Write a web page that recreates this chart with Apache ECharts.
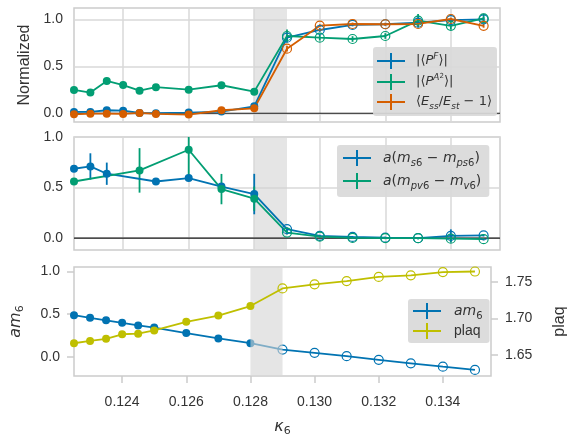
<!DOCTYPE html>
<html><head><meta charset="utf-8">
<script src="https://cdn.jsdelivr.net/npm/echarts@6/dist/echarts.min.js"></script>
<style>html,body{margin:0;padding:0;background:#fff}#c{width:576px;height:438px}</style>
</head><body><div id="c"></div>
<script>
// ---------------- data ----------------
const kappa = [0.1225,0.123,0.1235,0.124,0.1245,0.125,0.126,0.127,0.128,0.129,0.130,0.131,0.132,0.133,0.134,0.135];
const pF     = [0.014,0.014,0.032,0.028,0.004,0.000,0.007,0.018,0.074,0.804,0.886,0.940,0.947,0.964,0.990,1.000];
const pFErr  = [0.010,0.010,0.012,0.010,0.008,0.008,0.008,0.010,0.015,0.030,0.020,0.015,0.015,0.030,0.020,0.020];
const pA2    = [0.248,0.220,0.344,0.300,0.240,0.277,0.251,0.298,0.230,0.822,0.804,0.790,0.822,0.985,0.930,1.010];
const pA2Err = [0.030,0.025,0.035,0.030,0.025,0.030,0.030,0.035,0.025,0.070,0.030,0.030,0.030,0.070,0.040,0.050];
const ess    = [-0.011,-0.004,-0.004,-0.007,0.004,-0.007,-0.014,0.032,0.053,0.687,0.932,0.950,0.947,0.950,1.003,0.930];
const essErr = [0.008,0.008,0.008,0.008,0.008,0.008,0.008,0.010,0.010,0.030,0.015,0.015,0.015,0.015,0.015,0.020];

const kappaS = [0.1225,0.123,0.1235,0.125,0.126,0.127,0.128,0.129,0.130,0.131,0.132,0.133,0.134,0.135];
const dS     = [0.686,0.709,0.637,0.560,0.594,0.510,0.436,0.089,0.023,0.012,0.005,0.000,0.022,0.027];
const dSErr  = [0.020,0.130,0.110,0.020,0.030,0.020,0.200,0.020,0.010,0.010,0.010,0.010,0.065,0.010];
const kappaV = [0.1225,0.1245,0.126,0.127,0.128,0.129,0.130,0.131,0.132,0.133,0.134,0.135];
const dV     = [0.560,0.670,0.874,0.485,0.390,0.055,0.015,0.002,0.000,0.000,-0.005,-0.010];
const dVErr  = [0.030,0.220,0.290,0.150,0.120,0.020,0.010,0.010,0.010,0.010,0.030,0.010];

const am6  = [0.488,0.458,0.428,0.399,0.369,0.343,0.279,0.216,0.160,0.086,0.048,0.008,-0.034,-0.075,-0.115,-0.153];
const plaq = [1.6661,1.6692,1.6722,1.6784,1.6792,1.6836,1.6954,1.7040,1.7171,1.7412,1.7469,1.7513,1.7570,1.7592,1.7636,1.7644];

const xTicks = [0.124,0.126,0.128,0.130,0.132,0.134];
const yTicksNorm = [0,0.5,1.0];
const yTicksPlaq = [1.65,1.70,1.75];
const span = [0.128, 0.129];
const openFrom = 0.129;
const xMin = 0.1225, xMax = 0.1355;

// ---------------- style ----------------
const C = {blue:'#0173b2', green:'#029e73', orange:'#d55e00', yel:'#bfbf00'};
const GRIDC = '#d9d9d9', FRAME = '#cccccc', TXT = '#333333';
const FONT = '"Liberation Sans", Arial, sans-serif';
const MATH = '"DejaVu Sans", sans-serif';
const PLUS = 'path://M0,7h28v2h-28z M13,0h2v16h-2z';

function pts(xs, ys, color) {
  return xs.map((x, i) => x >= openFrom - 1e-9
    ? {value: [x, ys[i]], symbolSize: 9, itemStyle: {color: 'rgba(255,255,255,0)', borderColor: color, borderWidth: 1.2}}
    : {value: [x, ys[i]], itemStyle: {color: color, borderWidth: 0}});
}
function lineS(name, xs, ys, color, gi, yi, z) {
  return {type: 'line', name, xAxisIndex: gi, yAxisIndex: yi, z, data: pts(xs, ys, color),
    symbol: 'circle', symbolSize: 8, lineStyle: {color, width: 1.8}, itemStyle: {color},
    animation: false, clip: true};
}
function errS(xs, ys, es, color, gi, yi, z) {
  return {type: 'custom', name: '_err', xAxisIndex: gi, yAxisIndex: yi, z, clip: true, silent: true, animation: false,
    data: xs.map((x, i) => [x, ys[i] - es[i], ys[i] + es[i]]),
    renderItem: (p, api) => {
      const a = api.coord([api.value(0), api.value(1)]);
      const b = api.coord([api.value(0), api.value(2)]);
      return {type: 'line', shape: {x1: a[0], y1: a[1], x2: b[0], y2: b[1]}, style: {stroke: color, lineWidth: 1.8}};
    }};
}
function shadeS(gi, yi, z) {
  return {type: 'custom', name: '_shade', xAxisIndex: gi, yAxisIndex: yi, z, silent: true, animation: false,
    data: [[span[0], span[1]]],
    renderItem: (p, api) => {
      const cs = p.coordSys;
      const a = api.coord([api.value(0), 0]);
      const b = api.coord([api.value(1), 0]);
      return {type: 'rect', shape: {x: a[0], y: cs.y + 1, width: b[0] - a[0], height: cs.height - 2},
        style: {fill: 'rgba(211,211,211,0.6)'}};
    }};
}
function zeroS(gi, yi, z) {
  return {type: 'custom', name: '_zero', xAxisIndex: gi, yAxisIndex: yi, z, silent: true, animation: false,
    data: [[xMin, 0]],
    renderItem: (p, api) => {
      const cs = p.coordSys;
      const y = api.coord([api.value(0), api.value(1)])[1];
      return {type: 'line', shape: {x1: cs.x, y1: y, x2: cs.x + cs.width, y2: y}, style: {stroke: '#1a1a1a', lineWidth: 1.1}};
    }};
}

const grids = [
  {left: 74, top: 8, width: 426, height: 114},
  {left: 74, top: 137, width: 426, height: 113},
  {left: 74, top: 267, width: 426, height: 114}
].map(g => Object.assign(g, {show: true, borderColor: FRAME, borderWidth: 1.5, backgroundColor: '#fff'}));

const tickLbl = {color: TXT, fontSize: 14, fontFamily: FONT};
function richFor(fs, lh) {
  const sfs = Math.round(fs * 0.7);
  return {
    n: {fontFamily: MATH, fontSize: fs, color: TXT, lineHeight: lh},
    i: {fontFamily: MATH, fontSize: fs, fontStyle: 'italic', color: TXT, lineHeight: lh},
    sub: {fontFamily: MATH, fontSize: sfs, fontStyle: 'italic', color: TXT, verticalAlign: 'bottom', lineHeight: lh * 0.6},
    subn: {fontFamily: MATH, fontSize: sfs, color: TXT, verticalAlign: 'bottom', lineHeight: lh * 0.6},
    sup: {fontFamily: MATH, fontSize: sfs, fontStyle: 'italic', color: TXT, verticalAlign: 'top', lineHeight: lh * 0.55},
    supsub: {fontFamily: MATH, fontSize: Math.round(fs * 0.5), color: TXT, verticalAlign: 'top', lineHeight: lh * 0.75},
    t: {fontFamily: FONT, fontSize: fs, color: TXT, lineHeight: lh},
    g: {width: 6}
  };
}

const xAxes = [0, 1, 2].map(i => ({
  type: 'value', gridIndex: i, min: xMin, max: xMax, position: 'bottom',
  axisLine: {show: false, onZero: false},
  axisTick: {show: i === 2, inside: false, customValues: xTicks, length: 7, lineStyle: {color: FRAME, width: 1.5}},
  axisLabel: {show: i === 2, inside: false, customValues: xTicks, formatter: v => v.toFixed(3), margin: 19, ...tickLbl},
  splitLine: {show: i < 2, lineStyle: {color: GRIDC, width: 1.5}},
  name: i === 2 ? '{i|κ}{s|6}' : '', nameLocation: 'middle', nameGap: 41,
  nameTextStyle: {rich: {i: {fontFamily: MATH, fontStyle: 'italic', fontSize: 16, color: TXT, lineHeight: 20},
    s: {fontFamily: MATH, fontSize: 11, color: TXT, verticalAlign: 'bottom', lineHeight: 13}}}
}));

const yAxes = [
  {type: 'value', gridIndex: 0, min: -0.093, max: 1.12,
   axisLine: {show: false, onZero: false}, axisTick: {show: false, customValues: yTicksNorm},
   axisLabel: {customValues: yTicksNorm, formatter: v => v.toFixed(1), margin: 11, ...tickLbl},
   splitLine: {lineStyle: {color: GRIDC, width: 1.5}},
   name: 'Normalized', nameLocation: 'middle', nameGap: 33,
   nameTextStyle: {fontFamily: FONT, fontSize: 16, color: TXT}},
  {type: 'value', gridIndex: 1, min: -0.117, max: 1.0,
   axisLine: {show: false, onZero: false}, axisTick: {show: false, customValues: yTicksNorm},
   axisLabel: {customValues: yTicksNorm, formatter: v => v.toFixed(1), margin: 11, ...tickLbl},
   splitLine: {lineStyle: {color: GRIDC, width: 1.5}}},
  {type: 'value', gridIndex: 2, min: -0.224, max: 1.053,
   axisLine: {show: false, onZero: false},
   axisTick: {show: true, customValues: yTicksNorm, length: 7, lineStyle: {color: FRAME, width: 1.5}},
   axisLabel: {customValues: yTicksNorm, formatter: v => v.toFixed(1), margin: 14, ...tickLbl},
   splitLine: {show: false},
   name: '{i|am}{s|6}', nameLocation: 'middle', nameGap: 48,
   nameTextStyle: {rich: {i: {fontFamily: MATH, fontStyle: 'italic', fontSize: 16, color: TXT, lineHeight: 20},
     s: {fontFamily: MATH, fontSize: 11, color: TXT, verticalAlign: 'bottom', lineHeight: 13}}}},
  {type: 'value', gridIndex: 2, position: 'right', min: 1.6212, max: 1.7706,
   axisLine: {show: false, onZero: false},
   axisTick: {show: true, customValues: yTicksPlaq, length: 7, lineStyle: {color: FRAME, width: 1.5}},
   axisLabel: {customValues: yTicksPlaq, formatter: v => v.toFixed(2), margin: 14, ...tickLbl},
   splitLine: {show: false},
   name: 'plaq', nameLocation: 'middle', nameGap: 61,
   nameTextStyle: {fontFamily: FONT, fontSize: 16, color: TXT}}
];

const labels = {
  'pF': '{g| }{n|\u007c\u27e8}{i|P}{sup|F}{n|\u27e9\u007c}',
  'pA2': '{g| }{n|\u007c\u27e8}{i|P}{sup|A}{supsub|2}{n|\u27e9\u007c}',
  'ess': '{g| }{n|\u27e8}{i|E}{sub|ss}{n|/}{i|E}{sub|st}{n| \u2212 1\u27e9}',
  'dS': '{g| }{i|a}{n|(}{i|m}{sub|s}{subn|6}{n| \u2212 }{i|m}{sub|ps}{subn|6}{n|)}',
  'dV': '{g| }{i|a}{n|(}{i|m}{sub|pv}{subn|6}{n| \u2212 }{i|m}{sub|v}{subn|6}{n|)}',
  'am6': '{g| }{i|am}{subn|6}',
  'plaq': '{g| }{t|plaq}'
};
function legend(names, left, top, pad, gap, iw, fs, lh) {
  return {orient: 'vertical', left, top, padding: pad, itemGap: gap, itemWidth: iw, itemHeight: 16,
    backgroundColor: 'rgba(217,217,217,0.92)', borderRadius: 3, selectedMode: false,
    data: names.map(n => ({name: n, icon: PLUS})),
    formatter: n => labels[n], textStyle: {rich: richFor(fs, lh)}};
}

const option = {
  animation: false,
  grid: grids,
  xAxis: xAxes,
  yAxis: yAxes,
  legend: [
    legend(['pF', 'pA2', 'ess'], 373, 47, [5, 5, 5, 4], 4, 28, 13, 18),
    legend(['dS', 'dV'], 337, 145, [5, 8, 6, 6], 5, 30, 14, 20),
    legend(['am6', 'plaq'], 408, 299, [4, 7, 4, 5], 2, 32, 14, 20)
  ],
  series: [
    shadeS(0, 0, 1), zeroS(0, 0, 1),
    lineS('pF', kappa, pF, C.blue, 0, 0, 2), errS(kappa, pF, pFErr, C.blue, 0, 0, 2),
    lineS('pA2', kappa, pA2, C.green, 0, 0, 2), errS(kappa, pA2, pA2Err, C.green, 0, 0, 2),
    lineS('ess', kappa, ess, C.orange, 0, 0, 2), errS(kappa, ess, essErr, C.orange, 0, 0, 2),

    shadeS(1, 1, 1), zeroS(1, 1, 1),
    lineS('dS', kappaS, dS, C.blue, 1, 1, 2), errS(kappaS, dS, dSErr, C.blue, 1, 1, 2),
    lineS('dV', kappaV, dV, C.green, 1, 1, 2), errS(kappaV, dV, dVErr, C.green, 1, 1, 2),

    lineS('am6', kappa, am6, C.blue, 2, 2, 2),
    shadeS(2, 2, 3),
    lineS('plaq', kappa, plaq, C.yel, 2, 3, 4)
  ]
};
const chart = echarts.init(document.getElementById('c'), null, {renderer: 'canvas'});
chart.setOption(option);
</script>
</body></html>
